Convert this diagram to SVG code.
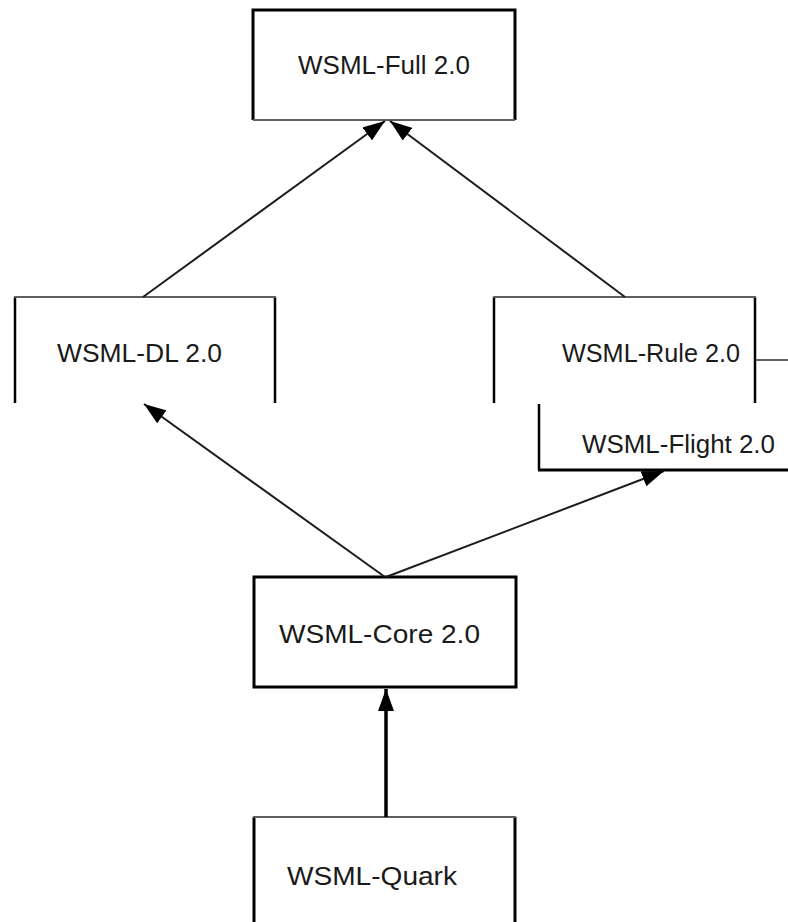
<svg xmlns="http://www.w3.org/2000/svg" width="788" height="922" viewBox="0 0 788 922">
  <style>
    .lbl { font-family: "Liberation Sans", Arial, sans-serif; font-size: 25px; fill: #1a1a1a; }
    .thin { fill: none; stroke: #5e5e5e; stroke-width: 2; }
    .side { fill: none; stroke: #000; stroke-width: 2.5; }
    .heavy { fill: none; stroke: #000; stroke-width: 3; }
    .conn { fill: none; stroke: #1c1c1c; stroke-width: 2; }
    .conn-bold { fill: none; stroke: #000; stroke-width: 3.5; }
  </style>
  <defs>
    <marker id="head" markerUnits="userSpaceOnUse" viewBox="0 0 22 16" markerWidth="22" markerHeight="16" refX="22" refY="8" orient="auto">
      <path d="M0,0 L22,8 L0,16 z" fill="#000"/>
    </marker>
  </defs>
  <rect width="788" height="922" fill="#fff"/>

  <!-- WSML-Full 2.0 -->
  <g id="full">
    <path class="heavy" d="M253,120 L253,10 L515,10 L515,120"/>
    <path class="thin" d="M253,120 L515,120"/>
    <text class="lbl" x="298" y="74" textLength="172" lengthAdjust="spacingAndGlyphs">WSML-Full 2.0</text>
  </g>

  <!-- WSML-DL 2.0 (open at the bottom) -->
  <g id="dl">
    <path class="side" d="M15,403 L15,297 M275,297 L275,403"/>
    <path class="thin" d="M14,297 L276,297"/>
    <text class="lbl" x="57" y="362" textLength="165" lengthAdjust="spacingAndGlyphs">WSML-DL 2.0</text>
  </g>

  <!-- WSML-Rule 2.0 (open at the bottom) -->
  <g id="rule">
    <path class="side" d="M494,403 L494,297 M755,297 L755,403"/>
    <path class="thin" d="M493,297 L756,297"/>
    <text class="lbl" x="562" y="362" textLength="178" lengthAdjust="spacingAndGlyphs">WSML-Rule 2.0</text>
  </g>

  <!-- WSML-Flight 2.0 (runs off the right edge) -->
  <g id="flight">
    <path class="thin" d="M756,360 L788,360"/>
    <path class="side" d="M539,404 L539,470"/>
    <path class="heavy" d="M538,470 L788,470"/>
    <text class="lbl" x="582" y="453" textLength="193" lengthAdjust="spacingAndGlyphs">WSML-Flight 2.0</text>
  </g>

  <!-- WSML-Core 2.0 -->
  <g id="core">
    <rect class="heavy" x="254" y="577" width="262" height="110"/>
    <text class="lbl" x="279" y="643" textLength="201" lengthAdjust="spacingAndGlyphs">WSML-Core 2.0</text>
  </g>

  <!-- WSML-Quark (runs off the bottom edge) -->
  <g id="quark">
    <path class="heavy" d="M254,922 L254,817 M515,817 L515,922"/>
    <path class="thin" d="M253,817 L516,817"/>
    <text class="lbl" x="287" y="885" textLength="170" lengthAdjust="spacingAndGlyphs">WSML-Quark</text>
  </g>

  <!-- connectors -->
  <g id="connectors">
    <line class="conn" x1="143" y1="297" x2="385" y2="121" marker-end="url(#head)"/>
    <line class="conn" x1="625" y1="297" x2="390" y2="121" marker-end="url(#head)"/>
    <line class="conn" x1="385" y1="577" x2="144" y2="404" marker-end="url(#head)"/>
    <line class="conn" x1="386" y1="577" x2="664" y2="471" marker-end="url(#head)"/>
    <line class="conn-bold" x1="386" y1="817" x2="386" y2="689" marker-end="url(#head)"/>
  </g>
</svg>
